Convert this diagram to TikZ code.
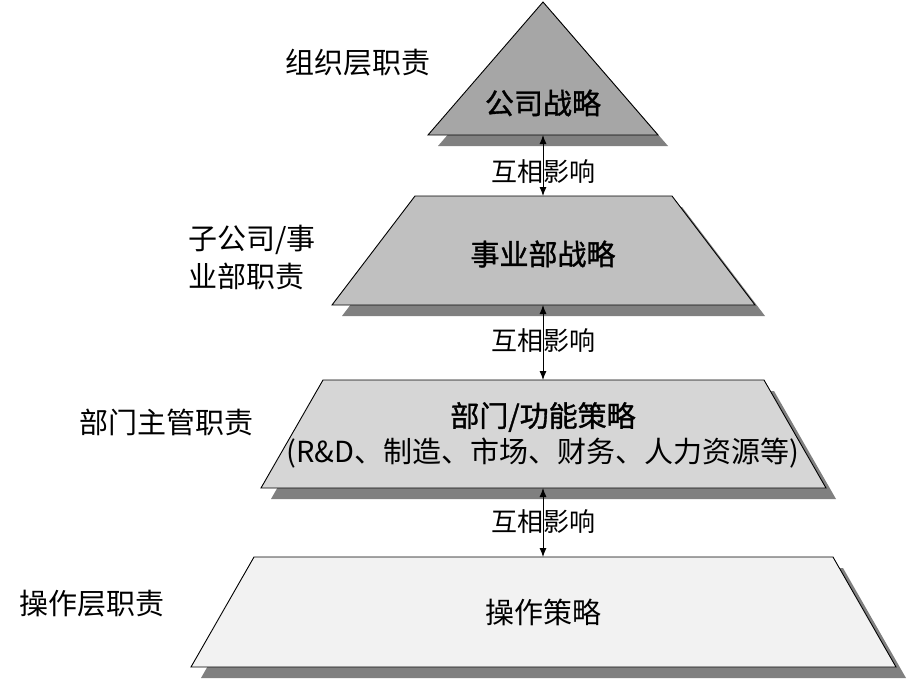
\documentclass[tikz,border=0pt]{standalone}
\usepackage{fontspec}
\newfontfamily\cjk{Noto Sans CJK SC}
\newfontfamily\cjkheavy{Noto Sans CJK SC}[FakeBold=1.2]
\usetikzlibrary{arrows.meta}
\definecolor{shadowgray}{HTML}{808080}
\definecolor{levelone}{HTML}{A6A6A6}
\definecolor{leveltwo}{HTML}{C0C0C0}
\definecolor{levelthree}{HTML}{D6D6D6}
\definecolor{levelfour}{HTML}{F2F2F2}
\begin{document}
\begin{tikzpicture}[x=1pt,y=-1pt,
  layer/.style={draw=black,line width=0.9pt,line join=miter},
  shade/.style={fill=shadowgray,draw=none},
  mainlabel/.style={font=\cjkheavy\fontsize{29}{36}\selectfont,align=center,inner sep=0pt},
  plainlabel/.style={font=\cjk\fontsize{29}{36}\selectfont,align=center,inner sep=0pt},
  sidelabel/.style={font=\cjk\fontsize{29}{38}\selectfont,align=left,inner sep=0pt},
  linklabel/.style={font=\cjk\fontsize{26}{30}\selectfont,inner sep=0pt},
  link/.style={{Latex[length=9pt,width=7pt]}-{Latex[length=9pt,width=7pt]},line width=0.9pt}]
\useasboundingbox (0,0) rectangle (908,678);
\fill[white] (0,0) rectangle (908,678);

% shadows
\begin{scope}[shift={(10,11)}]
  \fill[shade] (543,2) -- (658,135) -- (428,135) -- cycle;
  \fill[shade] (415,196) -- (672,196) -- (755,305) -- (332,305) -- cycle;
  \fill[shade] (323,380) -- (764,380) -- (826,488) -- (261,488) -- cycle;
  \fill[shade] (254,557) -- (833,557) -- (896,667) -- (191,667) -- cycle;
\end{scope}

% levels
\path[layer,fill=levelone] (543,2) -- (658,135) -- (428,135) -- cycle;
\path[layer,fill=leveltwo] (415,196) -- (672,196) -- (755,305) -- (332,305) -- cycle;
\path[layer,fill=levelthree] (323,380) -- (764,380) -- (826,488) -- (261,488) -- cycle;
\path[layer,fill=levelfour] (254,557) -- (833,557) -- (896,667) -- (191,667) -- cycle;

% edge points for the links
\coordinate (t1b) at (543,135);
\coordinate (t2t) at (543,196);
\coordinate (t2b) at (543,305);
\coordinate (t3t) at (543,380);
\coordinate (t3b) at (543,488);
\coordinate (t4t) at (543,557);

% main labels
\node[mainlabel] (m1) at (543,103) {公司战略};
\node[mainlabel] (m2) at (543,254) {事业部战略};
\node[mainlabel] (m3a) at (543,417) {部门/功能策略};
\node[plainlabel] (m3b) at (543,453) {(R\&D、制造、市场、财务、人力资源等)};
\node[plainlabel] (m4) at (543,612) {操作策略};

% side labels
\node[sidelabel] (s1) at (358,63) {组织层职责};
\node[sidelabel,anchor=west] (s2) at (188,258) {子公司/事\\业部职责};
\node[sidelabel] (s3) at (166,422) {部门主管职责};
\node[sidelabel] (s4) at (92,604) {操作层职责};

% link labels
\node[linklabel] (l1) at (543,172) {互相影响};
\node[linklabel] (l2) at (543,341) {互相影响};
\node[linklabel] (l3) at (543,522) {互相影响};

% links
\draw[link] (t1b) -- (t2t);
\draw[link] (t2b) -- (t3t);
\draw[link] (t3b) -- (t4t);
\end{tikzpicture}
\end{document}
